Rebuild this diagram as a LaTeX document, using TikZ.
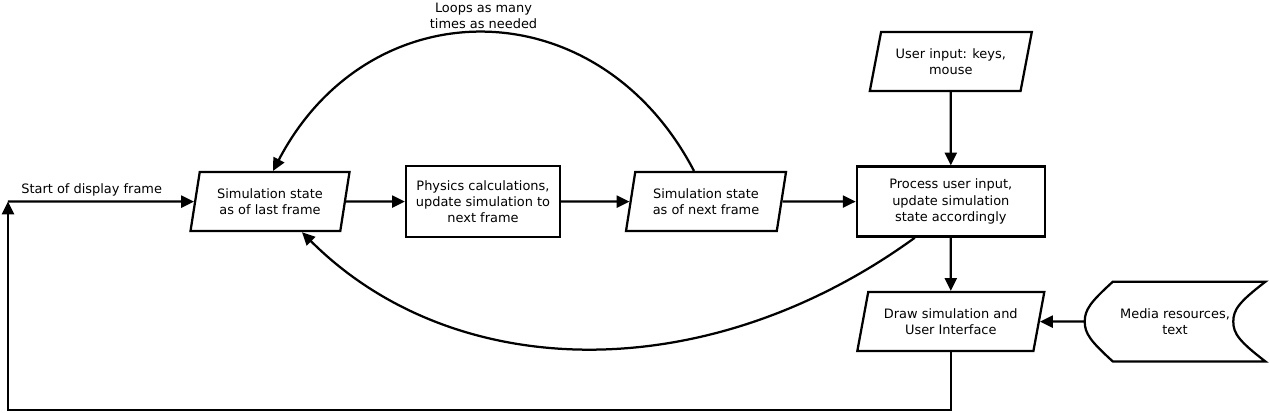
\documentclass[tikz,border=0pt]{standalone}
\usepackage{fontspec}
\setmainfont{DejaVu Sans}
\usetikzlibrary{shapes.geometric,arrows.meta}

\begin{document}
\begin{tikzpicture}[
        every node/.style={font=\fontsize{9.2}{11.6}\selectfont, align=center},
        proc/.style={draw, line width=1.6pt, rectangle},
        data/.style={draw, line width=1.6pt, trapezium, trapezium left angle=75.5,
            trapezium right angle=104.5, trapezium stretches body=true, minimum height=1.475cm},
        store/.style={rectangle, minimum width=4.5cm, minimum height=1.975cm},
        flow/.style={line width=1.6pt, -{Triangle[length=0.32cm,width=0.3cm]}}
    ]

        \useasboundingbox (0,0) rectangle (31.75,10.3);

        \node[data, minimum width=3.975cm] (last) at (6.75,5.26) {Simulation state\\as of last frame};
        \node[proc, minimum width=3.85cm, minimum height=1.775cm] (physics) at (12.075,5.26) {Physics calculations,\\update simulation to\\next frame};
        \node[data, minimum width=4cm] (next) at (17.65,5.26) {Simulation state\\as of next frame};
        \node[proc, minimum width=4.7cm, minimum height=1.75cm] (process) at (23.77,5.26) {Process user input,\\update simulation\\state accordingly};
        \node[data, trapezium left angle=72.5, trapezium right angle=107.5, minimum width=4.05cm] (input) at (23.77,8.76) {User input: keys,\\mouse};
        \node[data, trapezium left angle=73, trapezium right angle=107, minimum width=4.675cm] (render) at (23.77,2.26) {Draw simulation and\\User Interface};
        \node[store] (media) at (29.375,2.26) {Media resources,\\text};

        \draw[line width=1.6pt] ([xshift=0.7cm]media.north west) -- (media.north east)
            .. controls +(-0.65,-0.5) and +(0,0.3) .. ([xshift=-0.8cm]media.east)
            .. controls +(0,-0.3) and +(-0.65,0.5) .. (media.south east)
            -- ([xshift=0.7cm]media.south west)
            .. controls +(-0.55,0.5) and +(0,-0.3) .. (media.west)
            .. controls +(0,0.3) and +(-0.55,-0.5) .. cycle;

        \coordinate (frame) at (0.2,5.26);

        \draw[flow] (last) -- (physics);
        \draw[flow] (physics) -- (next);
        \draw[flow] (next) -- (process);
        \draw[flow] (input) -- (process);
        \draw[flow] (process) -- (render);
        \draw[flow] (media) -- (render);

        \draw[flow] (render.south -| process.center) -- ++(0,-1.45) -| (frame);
        \draw[flow] (frame) -- node[above, pos=0.45] {Start of display frame} (last);

        \draw[flow] ([xshift=-0.3cm]next.north) .. controls +(-2.4,4.6) and +(2.4,4.6)
            .. node[above, inner sep=2pt] {Loops as many\\times as needed} ([xshift=0.075cm]last.north);
        \draw[flow] ([xshift=-0.9cm]process.south) .. controls +(-5.2,-3.775) and +(3.8,-3.8)
            .. ([xshift=0.8cm]last.south);

    \end{tikzpicture}
\end{document}
